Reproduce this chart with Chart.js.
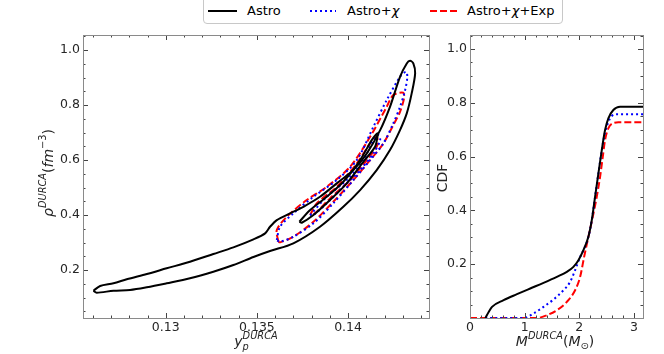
<!DOCTYPE html>
<html><head><meta charset="utf-8">
<script src="https://cdn.jsdelivr.net/npm/chart.js@4.4.0/dist/chart.umd.min.js"></script>
<style>
html,body{margin:0;padding:0;background:#fff;}
#wrap{position:relative;width:664px;height:354px;overflow:hidden;background:#fff;}
canvas{position:absolute;left:0;top:0;}
#legend{position:absolute;left:203px;top:-5px;width:358px;height:27px;border:1px solid #c8c8c8;border-radius:4px;background:#fff;font-family:'DejaVu Sans';font-size:13px;color:#000;z-index:5;}
#legend .s{position:absolute;top:11px;}
#legend .t{position:absolute;top:7px;line-height:15px;white-space:nowrap;}
</style></head><body>
<div id="wrap">
<canvas id="left" width="664" height="354"></canvas>
<canvas id="right" width="664" height="354"></canvas>
<div id="legend">
 <svg class="s" style="left:4px" width="29" height="8"><line x1="0" y1="4" x2="29" y2="4" stroke="#000" stroke-width="2"/></svg>
 <span class="t" style="left:43px">Astro</span>
 <svg class="s" style="left:105px" width="27" height="8"><line x1="1" y1="4" x2="27" y2="4" stroke="#0000ff" stroke-width="2" stroke-dasharray="2,3"/></svg>
 <span class="t" style="left:143px">Astro+<i>χ</i></span>
 <svg class="s" style="left:226px" width="27" height="8"><line x1="0" y1="4" x2="27" y2="4" stroke="#ff0000" stroke-width="2" stroke-dasharray="7,3"/></svg>
 <span class="t" style="left:263px">Astro+<i>χ</i>+Exp</span>
</div>
</div>
<script>
// ---------------- DATA ----------------
// Left panel: credible-region contours, x = y_p^DURCA, y = rho^DURCA (fm^-3)
const astroOuterYp  = [0.12603,0.12640,0.12713,0.12786,0.12896,0.13005,0.13133,0.13261,0.13371,0.13481,0.13545,0.13572,0.13609,0.13682,0.13755,0.13846,0.13938,0.14029,0.14103,0.14176,0.14230,0.14285,0.14322,0.14340,0.14358,0.14368,0.14349,0.14322,0.14285,0.14230,0.14157,0.14066,0.13974,0.13846,0.13700,0.13572,0.13481,0.13371,0.13261,0.13133,0.13005,0.12896,0.12804,0.12713,0.12621];
const astroOuterRho = [0.1247,0.1418,0.1516,0.1662,0.1855,0.2062,0.2302,0.2582,0.2825,0.3116,0.3335,0.3575,0.3818,0.4062,0.4302,0.4665,0.5153,0.5636,0.6244,0.7091,0.7938,0.9029,0.9516,0.9611,0.9516,0.9153,0.8425,0.7698,0.7091,0.6364,0.5636,0.4909,0.4302,0.3575,0.2971,0.2691,0.2473,0.2182,0.1938,0.1698,0.1516,0.1371,0.1273,0.1247,0.1175];
const astroInnerYp  = [0.13733,0.13792,0.13883,0.13974,0.14066,0.14130,0.14161,0.14161,0.14148,0.14084,0.13993,0.13901,0.13810,0.13746];
const astroInnerRho = [0.3756,0.4182,0.4665,0.5211,0.6000,0.6727,0.6971,0.6847,0.6484,0.5938,0.5153,0.4545,0.4000,0.3720];
const chiOuterYp    = [0.13609,0.13627,0.13700,0.13810,0.13938,0.14048,0.14139,0.14212,0.14285,0.14318,0.14325,0.14313,0.14285,0.14248,0.14194,0.14121,0.14029,0.13919,0.13810,0.13700,0.13627];
const chiOuterRho   = [0.3091,0.3575,0.4062,0.4665,0.5273,0.6000,0.7211,0.8182,0.9029,0.9211,0.9029,0.8545,0.7938,0.7335,0.6607,0.6000,0.5273,0.4425,0.3698,0.3211,0.3029];
const chiInnerYp    = [0.13792,0.13883,0.13993,0.14084,0.14139,0.14166,0.14176,0.14139,0.14066,0.13974,0.13883,0.13810];
const chiInnerRho   = [0.4000,0.4665,0.5273,0.6000,0.6727,0.6909,0.6727,0.6244,0.5636,0.5029,0.4425,0.4000];
const expOuterYp    = [0.13618,0.13609,0.13664,0.13773,0.13883,0.14011,0.14121,0.14212,0.14248,0.14303,0.14307,0.14285,0.14248,0.14194,0.14121,0.14029,0.13919,0.13810,0.13700,0.13627];
const expOuterRho   = [0.3029,0.3455,0.3938,0.4545,0.5029,0.5756,0.6847,0.7938,0.8364,0.8447,0.8244,0.7756,0.7273,0.6607,0.6000,0.5273,0.4484,0.3756,0.3211,0.3007];
const expInnerYp    = [0.13792,0.13828,0.13938,0.14048,0.14121,0.14157,0.14161,0.14103,0.14011,0.13901,0.13819];
const expInnerRho   = [0.4000,0.4425,0.5029,0.5880,0.6607,0.6847,0.6545,0.6000,0.5273,0.4607,0.4062];

// Right panel: CDF of M^DURCA (M_sun)
const cdfAstroM   = [0.28,0.342,0.403,0.615,0.859,1.102,1.345,1.589,1.772,1.892,1.984,2.075,2.166,2.228,2.288,2.349,2.411,2.471,2.531,2.622,2.745,3.17];
const cdfAstro    = [0,0.0227,0.0413,0.0662,0.0885,0.1097,0.1306,0.1529,0.1715,0.1901,0.2150,0.2522,0.3017,0.3638,0.4505,0.5376,0.6243,0.6987,0.7422,0.7731,0.7854,0.7854];
const cdfChiM     = [0.28,0.98,1.162,1.345,1.527,1.71,1.832,1.923,2.015,2.075,2.166,2.228,2.288,2.349,2.411,2.471,2.531,2.593,2.684,3.17];
const cdfChi      = [0,0,0.0167,0.0413,0.0688,0.1034,0.1343,0.1778,0.2273,0.2522,0.3017,0.3638,0.4505,0.5376,0.6243,0.6900,0.7280,0.7507,0.7571,0.7571];
const cdfExpM     = [0,1.224,1.407,1.589,1.772,1.923,2.015,2.088,2.166,2.246,2.319,2.38,2.429,2.471,2.531,2.611,2.714,3.17];
const cdfExp      = [0,0,0.0104,0.029,0.06,0.1034,0.1529,0.2273,0.3017,0.3761,0.4505,0.5249,0.5993,0.6615,0.7050,0.7236,0.7273,0.7273];

// Ticks
const leftXTicks  = [0.13,0.135,0.14];
const leftYTicks  = [0.2,0.4,0.6,0.8,1.0];
const rightXTicks = [0,1,2,3];
const rightYTicks = [0.2,0.4,0.6,0.8,1.0];

const seriesNames = ['Astro','Astro+χ','Astro+χ+Exp'];
const seriesColors = ['#000000','#0000ff','#ff0000'];
const seriesDash = [[],[2,3],[7,3]];

// ---------------- HELPERS ----------------
const FONT = "'DejaVu Sans'";
function pts(xs, ys, close){
  const a = xs.map((x,i)=>({x, y: ys[i]}));
  if (close) a.push({x: xs[0], y: ys[0]});
  return a;
}
function range(a, b, step){
  const out=[]; for(let v=a; v<=b+1e-9; v+=step) out.push(+v.toFixed(6)); return out;
}

const axesDeco = {
  id: 'axesDeco',
  afterDatasetsDraw(chart, args, o){
    const {ctx, chartArea:a, scales} = chart;
    const xs = scales.x, ys = scales.y;
    ctx.save();
    ctx.strokeStyle = '#444'; ctx.lineWidth = 1;
    ctx.beginPath();
    const tx = (vals, len) => vals.forEach(v=>{
      const p = Math.round(xs.getPixelForValue(v)) + 0.5;
      if (p < a.left - 0.1 || p > a.right + 0.6) return;
      ctx.moveTo(p, a.bottom); ctx.lineTo(p, a.bottom - len);
      ctx.moveTo(p, a.top); ctx.lineTo(p, a.top + len);
    });
    const ty = (vals, len) => vals.forEach(v=>{
      const p = Math.round(ys.getPixelForValue(v)) + 0.5;
      if (p < a.top - 0.1 || p > a.bottom + 0.6) return;
      ctx.moveTo(a.left, p); ctx.lineTo(a.left + len, p);
      ctx.moveTo(a.right, p); ctx.lineTo(a.right - len, p);
    });
    tx(o.xMajor, 5); tx(o.xMinor, 2.5); ty(o.yMajor, 5); ty(o.yMinor, 2.5);
    ctx.stroke();
    ctx.strokeStyle = '#8a8a8a';
    ctx.strokeRect(Math.round(a.left)+0.5, Math.round(a.top)+0.5, Math.round(a.right-a.left), Math.round(a.bottom-a.top));
    ctx.restore();
  }
};

function fontStr(size, italic){ return (italic ? 'italic ' : '') + size + 'px ' + FONT; }
function drawRich(ctx, segs, cx, baseY, angle, size){
  ctx.save();
  ctx.translate(cx, baseY);
  ctx.rotate(angle);
  ctx.textBaseline = 'alphabetic'; ctx.textAlign = 'left'; ctx.fillStyle = '#262626';
  const small = size * 0.7;
  const widths = segs.map(s=>{
    if (s.stack){
      ctx.font = fontStr(small, true);
      return Math.max(ctx.measureText(s.sup).width, ctx.measureText(s.sub).width);
    }
    ctx.font = fontStr((s.sup||s.sub) ? small : size, s.it);
    return ctx.measureText(s.t).width;
  });
  const total = widths.reduce((p,c)=>p+c,0);
  let x = -total/2;
  segs.forEach((s,i)=>{
    if (s.stack){
      ctx.font = fontStr(small, true);
      ctx.fillText(s.sup, x, -size*0.5);
      ctx.fillText(s.sub, x, size*0.28);
    } else if (s.sup){
      ctx.font = fontStr(small, s.it); ctx.fillText(s.t, x, -size*0.5);
    } else if (s.sub){
      ctx.font = fontStr(small, s.it); ctx.fillText(s.t, x, size*0.22);
    } else {
      ctx.font = fontStr(size, s.it); ctx.fillText(s.t, x, 0);
    }
    x += widths[i];
  });
  ctx.restore();
}
const axisTitles = {
  id: 'axisTitles',
  afterDraw(chart, args, o){
    o.items.forEach(it => drawRich(chart.ctx, it.segs, it.x, it.y, it.angle, it.size));
  }
};

function lineDs(label, data, i, extra){
  return Object.assign({
    label, data, showLine: true, pointRadius: 0, borderWidth: 2,
    borderColor: seriesColors[i], borderDash: seriesDash[i], fill: false
  }, extra||{});
}

const tickFont = {family: FONT, size: 12.5};
const tickColor = '#262626';

// ---------------- LEFT CHART ----------------
new Chart(document.getElementById('left'), {
  type: 'scatter',
  data: { datasets: [
    lineDs(seriesNames[0], pts(astroOuterYp, astroOuterRho, true), 0, {tension: 0.3}),
    lineDs(seriesNames[0], pts(astroInnerYp, astroInnerRho, true), 0, {tension: 0.3}),
    lineDs(seriesNames[1], pts(chiOuterYp, chiOuterRho, true), 1, {tension: 0.3}),
    lineDs(seriesNames[1], pts(chiInnerYp, chiInnerRho, true), 1, {tension: 0.3}),
    lineDs(seriesNames[2], pts(expOuterYp, expOuterRho, true), 2, {tension: 0.3}),
    lineDs(seriesNames[2], pts(expInnerYp, expInnerRho, true), 2, {tension: 0.3})
  ]},
  options: {
    responsive: false, animation: false, devicePixelRatio: 1,
    layout: { padding: {top: 35, right: 235, bottom: 0, left: 0} },
    plugins: {
      legend: {display: false}, tooltip: {enabled: false},
      axesDeco: { xMajor: leftXTicks, xMinor: range(0.125, 0.145, 0.001), yMajor: leftYTicks, yMinor: range(0.05, 1.05, 0.05) },
      axisTitles: { items: [
        { segs: [{t:'ρ', it:true},{t:'DURCA', it:true, sup:true},{t:'('},{t:'fm', it:true},{t:'−3', sup:true},{t:')'}], x: 53, y: 173, angle: -Math.PI/2, size: 14 },
        { segs: [{t:'y', it:true},{stack:true, sup:'DURCA', sub:'p'}], x: 256, y: 346, angle: 0, size: 14 }
      ]}
    },
    scales: {
      x: { type: 'linear', min: 0.12546, max: 0.14444,
        grid: {display: false, drawTicks: false}, border: {display: false},
        afterBuildTicks: s => { s.ticks = leftXTicks.map(v=>({value: v})); },
        afterFit: s => { s.height = 36; },
        ticks: { padding: 2, font: tickFont, color: tickColor, maxRotation: 0, callback: v => String(+(+v).toFixed(3)) } },
      y: { type: 'linear', min: 0.0255, max: 1.055,
        grid: {display: false, drawTicks: false}, border: {display: false},
        afterBuildTicks: s => { s.ticks = leftYTicks.map(v=>({value: v})); },
        afterFit: s => { s.width = 83; },
        ticks: { padding: 3, font: tickFont, color: tickColor, callback: v => (+v).toFixed(1) } }
    }
  },
  plugins: [axesDeco, axisTitles]
});

// ---------------- RIGHT CHART ----------------
new Chart(document.getElementById('right'), {
  type: 'scatter',
  data: { datasets: [
    lineDs(seriesNames[0], pts(cdfAstroM, cdfAstro), 0, {cubicInterpolationMode: 'monotone', clip: 3}),
    lineDs(seriesNames[1], pts(cdfChiM, cdfChi), 1, {cubicInterpolationMode: 'monotone', clip: 3}),
    lineDs(seriesNames[2], pts(cdfExpM, cdfExp), 2, {cubicInterpolationMode: 'monotone', clip: 3})
  ]},
  options: {
    responsive: false, animation: false, devicePixelRatio: 1,
    layout: { padding: {top: 35, right: 21, bottom: 0, left: 0} },
    plugins: {
      legend: {display: false}, tooltip: {enabled: false},
      axesDeco: { xMajor: rightXTicks, xMinor: range(0.2, 3.2, 0.2), yMajor: rightYTicks, yMinor: range(0.05, 1.05, 0.05) },
      axisTitles: { items: [
        { segs: [{t:'CDF'}], x: 447, y: 178, angle: -Math.PI/2, size: 14 },
        { segs: [{t:'M', it:true},{t:'DURCA', it:true, sup:true},{t:'('},{t:'M', it:true},{t:'⊙', sub:true},{t:')'}], x: 555, y: 346, angle: 0, size: 14 }
      ]}
    },
    scales: {
      x: { type: 'linear', min: 0, max: 3.165,
        grid: {display: false, drawTicks: false}, border: {display: false},
        afterBuildTicks: s => { s.ticks = rightXTicks.map(v=>({value: v})); },
        afterFit: s => { s.height = 36; },
        ticks: { padding: 2, font: tickFont, color: tickColor, maxRotation: 0, callback: v => String(v) } },
      y: { type: 'linear', min: 0, max: 1.052,
        grid: {display: false, drawTicks: false}, border: {display: false},
        afterBuildTicks: s => { s.ticks = rightYTicks.map(v=>({value: v})); },
        afterFit: s => { s.width = 470; },
        ticks: { padding: 3, font: tickFont, color: tickColor, callback: v => (+v).toFixed(1) } }
    }
  },
  plugins: [axesDeco, axisTitles]
});
</script>
</body></html>
